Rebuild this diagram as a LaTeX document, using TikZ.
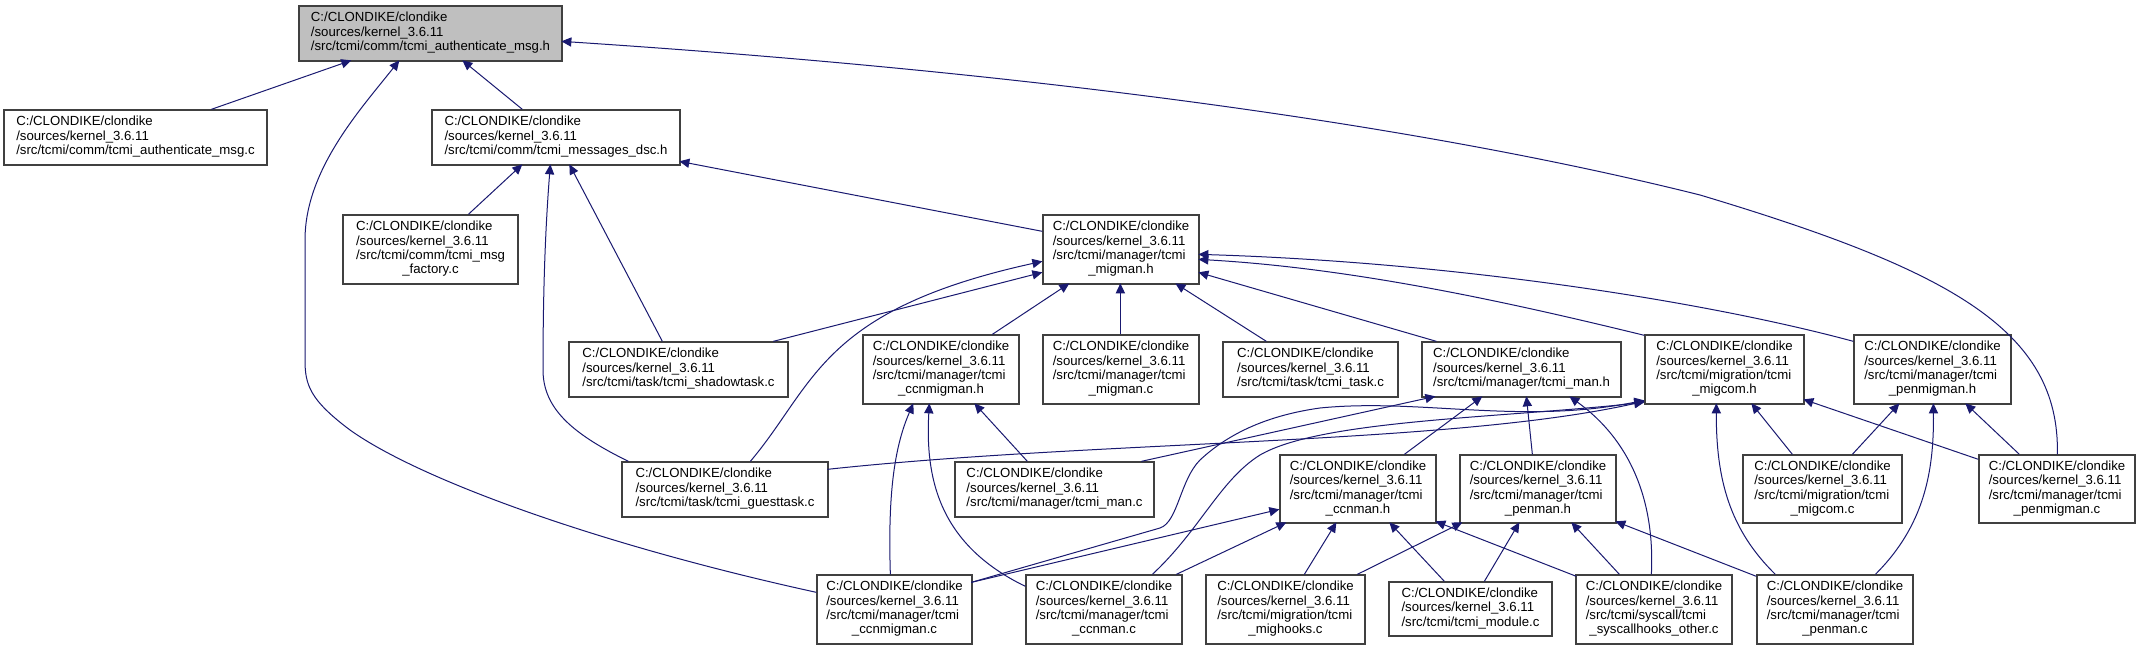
\documentclass[tikz,border=0pt]{standalone}
\usepackage{fontspec}
\newfontfamily\dxfont{Liberation Sans}
\usetikzlibrary{arrows.meta,calc}
\definecolor{mblue}{HTML}{191970}
\definecolor{rootgray}{HTML}{BFBFBF}
\newcommand\dxt[1]{\begin{tabular}{@{}l@{}}C:/CLONDIKE/clondike\\/sources/kernel\_3.6.11\\#1\end{tabular}}
\newcommand\dxf[2]{\begin{tabular}{@{}l@{}}C:/CLONDIKE/clondike\\/sources/kernel\_3.6.11\\#1\\\multicolumn{1}{@{}c@{}}{#2}\end{tabular}}
\newcommand\dxnode[7][]{%
  \pgfmathsetmacro\dxw{(#5-#3)*0.5}%
  \pgfmathsetmacro\dxh{(#6-#4)*0.5}%
  \node[dbox,#1,minimum width=\dxw pt,minimum height=\dxh pt] (#2) at ({(#3+#5)/2},{(#4+#6)/2}) {#7};}
\newcommand\rp[3]{($(#1.north west)+(#2,#3)$)}
\tikzset{
  dbox/.style={draw=black!75, line width=0.65pt, inner sep=0pt, fill=white,
    font=\dxfont\fontsize{6.6pt}{7.2pt}\selectfont, text=black},
  dxedge/.style={draw=mblue, line width=0.5pt, -{Triangle[length=5pt,width=4.6pt]}, fill=none},
}
\begin{document}
\begin{tikzpicture}[x=0.5pt,y=-0.5pt]
\fill[white] (0,0) rectangle (2139,651);
\useasboundingbox (0,0) rectangle (2139,651);
% nodes
\dxnode[fill=rootgray]{root}{299}{6}{562}{61}{\dxt{/src/tcmi/comm/tcmi\_authenticate\_msg.h}}
\dxnode{amc}{4}{110}{267}{165}{\dxt{/src/tcmi/comm/tcmi\_authenticate\_msg.c}}
\dxnode{mdh}{432}{110}{680}{165}{\dxt{/src/tcmi/comm/tcmi\_messages\_dsc.h}}
\dxnode{mfc}{343}{215}{518}{284}{\dxf{/src/tcmi/comm/tcmi\_msg}{\_factory.c}}
\dxnode{migh}{1043}{215}{1199}{284}{\dxf{/src/tcmi/manager/tcmi}{\_migman.h}}
\dxnode{shc}{569}{342}{788}{397}{\dxt{/src/tcmi/task/tcmi\_shadowtask.c}}
\dxnode{ccnmigh}{863}{335}{1019}{404}{\dxf{/src/tcmi/manager/tcmi}{\_ccnmigman.h}}
\dxnode{migc}{1043}{335}{1199}{404}{\dxf{/src/tcmi/manager/tcmi}{\_migman.c}}
\dxnode{taskc}{1223}{342}{1398}{397}{\dxt{/src/tcmi/task/tcmi\_task.c}}
\dxnode{manh}{1422}{342}{1621}{397}{\dxt{/src/tcmi/manager/tcmi\_man.h}}
\dxnode{migcomh}{1645}{335}{1804}{404}{\dxf{/src/tcmi/migration/tcmi}{\_migcom.h}}
\dxnode{penmigh}{1854}{335}{2011}{404}{\dxf{/src/tcmi/manager/tcmi}{\_penmigman.h}}
\dxnode{gtc}{622}{462}{828}{517}{\dxt{/src/tcmi/task/tcmi\_guesttask.c}}
\dxnode{manc}{955}{462}{1154}{517}{\dxt{/src/tcmi/manager/tcmi\_man.c}}
\dxnode{ccnmanh}{1280}{455}{1436}{523}{\dxf{/src/tcmi/manager/tcmi}{\_ccnman.h}}
\dxnode{penmanh}{1460}{455}{1616}{523}{\dxf{/src/tcmi/manager/tcmi}{\_penman.h}}
\dxnode{migcomc}{1743}{455}{1902}{523}{\dxf{/src/tcmi/migration/tcmi}{\_migcom.c}}
\dxnode{penmigc}{1979}{455}{2135}{523}{\dxf{/src/tcmi/manager/tcmi}{\_penmigman.c}}
\dxnode{ccnmigc}{817}{575}{972}{644}{\dxf{/src/tcmi/manager/tcmi}{\_ccnmigman.c}}
\dxnode{ccnmanc}{1026}{575}{1182}{644}{\dxf{/src/tcmi/manager/tcmi}{\_ccnman.c}}
\dxnode{mighooksc}{1206}{575}{1365}{644}{\dxf{/src/tcmi/migration/tcmi}{\_mighooks.c}}
\dxnode{modulec}{1389}{582}{1552}{636}{\dxt{/src/tcmi/tcmi\_module.c}}
\dxnode{syscallc}{1576}{575}{1732}{644}{\dxf{/src/tcmi/syscall/tcmi}{\_syscallhooks\_other.c}}
\dxnode{penmanc}{1757}{575}{1913}{644}{\dxf{/src/tcmi/manager/tcmi}{\_penman.c}}
% edges
\draw[dxedge] \rp{amc}{208}{0} -- \rp{root}{53}{55};
\draw[dxedge] \rp{mdh}{91}{0} -- \rp{root}{164}{55};
\draw[dxedge] \rp{mfc}{126}{0} -- \rp{mdh}{91}{55};
\draw[dxedge] \rp{shc}{94}{0} -- \rp{mdh}{138}{55};
\draw[dxedge] \rp{gtc}{7}{0} .. controls (575,435) and (543,410) .. (543,370) .. controls (543,280) and (546,220) .. \rp{mdh}{119}{55};
\draw[dxedge] \rp{migh}{0}{17} -- \rp{mdh}{248}{52};
\draw[dxedge] \rp{shc}{205}{0} -- \rp{migh}{0}{58};
\draw[dxedge] \rp{gtc}{129}{0} .. controls (815,385) and (820,310) .. \rp{migh}{0}{47};
\draw[dxedge] \rp{ccnmigh}{130}{0} -- \rp{migh}{27}{69};
\draw[dxedge] \rp{migc}{78}{0} -- \rp{migh}{78}{69};
\draw[dxedge] \rp{taskc}{44}{0} -- \rp{migh}{133}{69};
\draw[dxedge] \rp{manh}{15}{0} -- \rp{migh}{156}{58};
\draw[dxedge] \rp{migcomh}{0}{1} .. controls (1500,300) and (1350,268) .. \rp{migh}{156}{45};
\draw[dxedge] \rp{penmigh}{0}{7} .. controls (1700,300) and (1450,262) .. \rp{migh}{156}{40};
\draw[dxedge] \rp{manc}{187}{0} -- \rp{manh}{14}{55};
\draw[dxedge] \rp{ccnmanh}{125}{0} -- \rp{manh}{61}{55};
\draw[dxedge] \rp{penmanh}{73}{0} -- \rp{manh}{105}{55};
\draw[dxedge] \rp{syscallc}{76}{0} .. controls (1655,500) and (1630,440) .. \rp{manh}{148}{55};
\draw[dxedge] \rp{ccnmigc}{155}{8} -- \rp{ccnmanh}{0}{55};
\draw[dxedge] \rp{ccnmanc}{151}{0} -- \rp{ccnmanh}{7}{68};
\draw[dxedge] \rp{mighooksc}{99}{0} -- \rp{ccnmanh}{57}{68};
\draw[dxedge] \rp{modulec}{56}{0} -- \rp{ccnmanh}{110}{68};
\draw[dxedge] \rp{syscallc}{1}{2} -- \rp{ccnmanh}{156}{67};
\draw[dxedge] \rp{mighooksc}{152}{0} -- \rp{penmanh}{3}{68};
\draw[dxedge] \rp{modulec}{96}{0} -- \rp{penmanh}{60}{68};
\draw[dxedge] \rp{syscallc}{44}{0} -- \rp{penmanh}{112}{68};
\draw[dxedge] \rp{penmanc}{0}{2} -- \rp{penmanh}{156}{67};
\draw[dxedge] \rp{migcomc}{110}{0} -- \rp{penmigh}{46}{69};
\draw[dxedge] \rp{penmanc}{119}{0} .. controls (1925,525) and (1934,470) .. \rp{penmigh}{80}{69};
\draw[dxedge] \rp{penmigc}{41}{0} -- \rp{penmigh}{112}{69};
\draw[dxedge] \rp{migcomc}{50}{0} -- \rp{migcomh}{107}{69};
\draw[dxedge] \rp{penmigc}{0}{5} -- \rp{migcomh}{159}{65};
\draw[dxedge] \rp{penmanc}{19}{0} .. controls (1730,530) and (1716,480) .. \rp{migcomh}{72}{69};
\draw[dxedge] \rp{gtc}{206}{8} .. controls (1100,440) and (1450,445) .. \rp{migcomh}{0}{67};
\draw[dxedge] \rp{ccnmigc}{155}{8} -- (1160,528) .. controls (1178,522) and (1180,480) .. (1200,460) .. controls (1230,432) and (1270,415) .. (1320,408) .. controls (1420,398) and (1520,425) .. \rp{migcomh}{0}{66};
\draw[dxedge] \rp{ccnmanc}{127}{0} .. controls (1200,530) and (1220,480) .. (1260,455) .. controls (1320,420) and (1500,418) .. \rp{migcomh}{0}{68};
\draw[dxedge] \rp{ccnmigc}{0}{18} .. controls (600,545) and (420,480) .. (350,430) .. controls (310,400) and (305,385) .. (305,360) -- (305,240) .. controls (305,170) and (360,110) .. \rp{root}{101}{55};
\draw[dxedge] \rp{penmigc}{79}{0} .. controls (2060,330) and (1950,270) .. (1700,195) .. controls (1400,120) and (1000,70) .. \rp{root}{263}{36};
\draw[dxedge] \rp{ccnmigc}{74}{0} .. controls (888,500) and (893,450) .. \rp{ccnmigh}{51}{69};
\draw[dxedge] \rp{ccnmanc}{0}{12} .. controls (940,545) and (925,480) .. \rp{ccnmigh}{67}{69};
\draw[dxedge] \rp{manc}{73}{0} -- \rp{ccnmigh}{112}{69};
\end{tikzpicture}
\end{document}
